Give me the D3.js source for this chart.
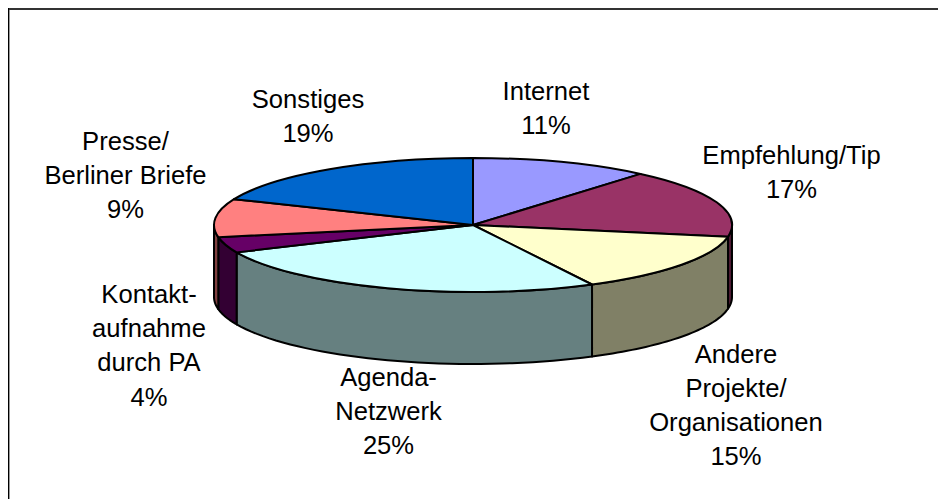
<!DOCTYPE html>
<html>
<head>
<meta charset="utf-8">
<script src="https://cdn.jsdelivr.net/npm/d3@7"></script>
<style>
  html, body { margin: 0; background: #fff; }
  text { font-family: "Liberation Sans", Arial, sans-serif; font-size: 25.6px; fill: #000; text-anchor: middle; }
</style>
</head>
<body>
<script>
// Clockwise from 12 o'clock. Shares are measured from the drawn rim,
// the printed percentages are in labelLines.
const categories = ["Internet", "Empfehlung/Tip", "Andere Projekte/Organisationen", "Agenda-Netzwerk", "Kontaktaufnahme durch PA", "Presse/Berliner Briefe", "Sonstiges"];
const shares = [11.2, 16.6, 14.6, 25.9, 3.8, 9.2, 18.7];
const topColors = ["#9999ff", "#993366", "#ffffcc", "#ccffff", "#660066", "#ff8080", "#0066cc"];
const sideColors = ["#4d4d80", "#4d1a33", "#808066", "#668080", "#330033", "#804040", "#003366"];
const labelLines = [
  ["Internet", "11%"],
  ["Empfehlung/Tip", "17%"],
  ["Andere", "Projekte/", "Organisationen", "15%"],
  ["Agenda-", "Netzwerk", "25%"],
  ["Kontakt-", "aufnahme", "durch PA", "4%"],
  ["Presse/", "Berliner Briefe", "9%"],
  ["Sonstiges", "19%"]
];
const labelAnchors = [[546, 100], [791.5, 164], [736, 362.5], [388.5, 386], [149, 303], [125.5, 150], [308, 108]];

const width = 938, height = 499;
const cx = 473, cy = 225, rx = 259, ry = 67, depth = 72;

const svg = d3.select("body").append("svg")
  .attr("width", width)
  .attr("height", height)
  .style("display", "block");

// Only the top and left edge of the frame are in the picture
svg.append("line")
  .attr("x1", 8).attr("y1", 9)
  .attr("x2", width).attr("y2", 9)
  .attr("stroke", "#333")
  .attr("stroke-width", 2);
svg.append("line")
  .attr("x1", 8.5).attr("y1", 8)
  .attr("x2", 8.5).attr("y2", height)
  .attr("stroke", "#000")
  .attr("stroke-width", 1);
svg.append("line")
  .attr("x1", 9.5).attr("y1", 10)
  .attr("x2", 9.5).attr("y2", height)
  .attr("stroke", "#999")
  .attr("stroke-width", 1);

const slices = d3.pie().sort(null).value(d => d)(shares);

// Point on the tilted rim, angle is clockwise from the top
const rimX = a => cx + rx * Math.sin(a);
const rimY = a => cy - ry * Math.cos(a);

// Side wall of one slice, only the part facing the viewer
function wallPath(d) {
  const a0 = Math.max(d.startAngle, Math.PI / 2);
  const a1 = Math.min(d.endAngle, Math.PI * 1.5);
  if (a1 <= a0) return null;
  const path = d3.path();
  path.moveTo(rimX(a0), rimY(a0));
  const steps = d3.range(0, 41).map(i => a0 + (a1 - a0) * i / 40);
  steps.forEach(a => path.lineTo(rimX(a), rimY(a)));
  steps.reverse().forEach(a => path.lineTo(rimX(a), rimY(a) + depth));
  path.closePath();
  return path.toString();
}

svg.append("g").selectAll("path")
  .data(slices.filter(wallPath))
  .join("path")
  .attr("d", wallPath)
  .attr("fill", d => sideColors[d.index])
  .attr("stroke", "#000")
  .attr("stroke-width", 2)
  .attr("stroke-linejoin", "round");

// Top face: plain d3.arc squashed into an ellipse
const arc = d3.arc().innerRadius(0).outerRadius(rx);
svg.append("g")
  .attr("transform", `translate(${cx},${cy}) scale(1,${ry / rx})`)
  .selectAll("path")
  .data(slices)
  .join("path")
  .attr("d", arc)
  .attr("fill", d => topColors[d.index])
  .attr("stroke", "#000")
  .attr("stroke-width", 2)
  .attr("stroke-linejoin", "round")
  .attr("vector-effect", "non-scaling-stroke");

// Labels
const lineHeight = 34.2;
labelLines.forEach((lines, i) => {
  const t = svg.append("text")
    .attr("transform", `translate(${labelAnchors[i][0]},${labelAnchors[i][1]})`);
  lines.forEach((line, j) => {
    t.append("tspan").attr("x", 0).attr("y", j * lineHeight).text(line);
  });
});
</script>
</body>
</html>
